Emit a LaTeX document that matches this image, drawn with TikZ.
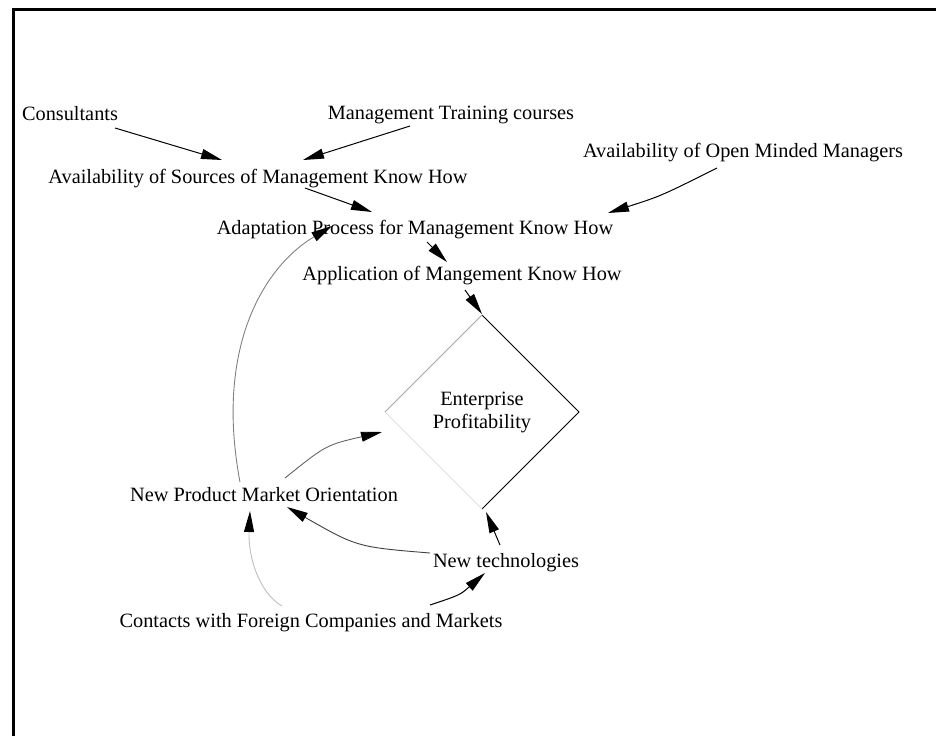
\documentclass[tikz,border=0pt]{standalone}
\usepackage{fontspec}
\setmainfont{Liberation Serif}
\usetikzlibrary{arrows.meta,shapes.geometric,calc}
\begin{document}
\begin{tikzpicture}[x=1pt,y=-1pt,
  lbl/.style={font=\fontsize{20.3}{23}\selectfont, inner sep=0pt, anchor=base},
  arr/.style={-{Triangle[length=21pt,width=10pt]}, line width=1pt, draw=black},
  faint/.style={-{Triangle[length=21pt,width=10pt,color=black]}, line width=0.9pt},
]
\useasboundingbox (0,0) rectangle (936,736);
% frame
\draw[line width=3pt] (13,736) -- (13,9) -- (936,9);
% nodes
\node[lbl] (cons)  at (70,120)  {Consultants};
\node[lbl] (train) at (451,119) {Management Training courses};
\node[lbl] (src)   at (258,183) {Availability of Sources of Management Know How};
\node[lbl] (open)  at (743,157) {Availability of Open Minded Managers};
\node[lbl] (adapt) at (415,234) {Adaptation Process for Management Know How};
\node[lbl] (appl)  at (462,280) {Application of Mangement Know How};
\node[diamond, draw=none, minimum width=194pt, minimum height=194pt, inner sep=0pt,
      outer sep=0pt, aspect=1, align=center, font=\fontsize{20.3}{23}\selectfont]
      (ep) at (482,412) {Enterprise\\Profitability};
\node[lbl] (npmo)  at (264,501) {New Product Market Orientation};
\node[lbl] (newt)  at (506,567) {New technologies};
\node[lbl] (cont)  at (311,627) {Contacts with Foreign Companies and Markets};
% diamond outline
\draw[line width=1pt] (ep.north) -- (ep.east) -- (ep.south);
\draw[line width=0.8pt, black!35] (ep.north) -- (ep.west);
\draw[line width=0.8pt, black!12] (ep.west) -- (ep.south);
% connectors
\draw[arr] ($(cons.base)+(45,8)$) -- ($(src.base)+(-36,-23)$);
\draw[arr] ($(train.base)+(-41,7)$) -- ($(src.base)+(45,-23)$);
\draw[arr] ($(src.base)+(47,5)$) -- ($(adapt.base)+(-43,-22)$);
\draw[arr] ($(open.base)+(-26,11)$) .. controls (661,196) .. ($(adapt.base)+(193,-21)$);
\draw[arr] ($(adapt.base)+(12,8)$) -- ($(appl.base)+(-15,-18)$);
\draw[arr] ($(appl.base)+(3,10)$) -- ($(ep.north)+(0,-1)$);
\draw[faint, draw=black!50] ($(npmo.base)+(-24,-19)$) .. controls (215,350) and (262,268) .. ($(adapt.base)+(-83,-8)$);
\draw[faint, draw=black!60] ($(npmo.base)+(21,-23)$) .. controls (326,445) .. ($(ep.west)+(-3,20)$);
\draw[faint, draw=black!75] ($(newt.base)+(-76,-14)$) .. controls (357,547) .. ($(npmo.base)+(23,6)$);
\draw[faint, draw=black!25] ($(cont.base)+(-29,-21)$) .. controls (258,592) and (248,555) .. ($(npmo.base)+(-14,10)$);
\draw[arr] ($(cont.base)+(119,-22)$) .. controls (460,595) .. ($(newt.base)+(-21,6)$);
\draw[arr] ($(newt.base)+(-6,-22)$) -- ($(ep.south)+(4,3)$);
\end{tikzpicture}
\end{document}
